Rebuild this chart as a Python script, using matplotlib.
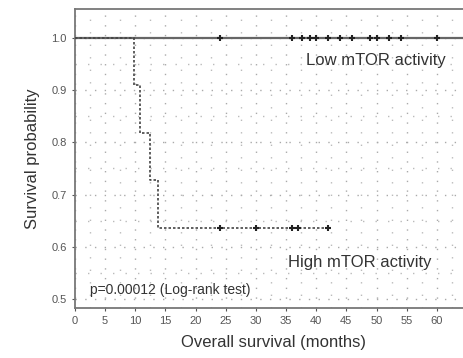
import matplotlib
matplotlib.use("Agg")
import matplotlib.pyplot as plt
import numpy as np

plt.rcParams['font.family'] = ['Liberation Sans', 'DejaVu Sans']

# Kaplan-Meier data (months, survival)
low_times = [0, 65]
low_surv = [1.0, 1.0]
low_censor = [24, 36, 37.6, 39, 40, 42, 44, 46, 49, 50, 52, 54, 60]

high_times = [0, 9.8, 10.7, 12.4, 13.8, 42]
high_surv = [1.0, 0.909, 0.818, 0.727, 0.636, 0.636]
high_censor = [24, 30, 36, 37, 42]

xticks = list(range(0, 65, 5))
yticks = [0.5, 0.6, 0.7, 0.8, 0.9, 1.0]

fig = plt.figure(figsize=(4.64, 3.58), dpi=100)
W, H = 464, 358
ax = fig.add_axes([75 / W, 1 - 308 / H, (473 - 75) / W, (308 - 9) / H])

grey = '#555555'
ax.step(low_times, low_surv, where='post', color='#666666', lw=1.6, zorder=3)
ax.plot(low_censor, [1.0] * len(low_censor), ls='none', marker='+', ms=5,
        mew=1.5, color='#222222', zorder=4)
ax.step(high_times, high_surv, where='post', color='#444444', lw=1.2,
        ls=(0, (1.5, 1.2)), zorder=3)
ax.plot(high_censor, [0.636] * len(high_censor), ls='none', marker='+', ms=5,
        mew=1.5, color='#222222', zorder=4)

ax.set_xlim(0, 66)
ax.set_ylim(0.483, 1.055)
ax.set_xticks(xticks)
ax.set_yticks(yticks)
ax.set_yticklabels([f'{v:.1f}' for v in yticks])
ax.tick_params(labelsize=8, colors=grey, length=2.5, width=0.8)

ax.set_xticks(np.arange(2.5, 66, 5), minor=True)
ax.set_yticks(np.arange(0.55, 1.05, 0.1), minor=True)
ax.tick_params(which='minor', length=0)
ax.grid(True, which='major', color='#aaaaaa', lw=1.0, ls=(0, (1, 6)))
ax.grid(True, which='minor', color='#bbbbbb', lw=1.0, ls=(0, (1, 8)))

for s in ax.spines.values():
    s.set_color('#777777')
    s.set_linewidth(1.3)

ax.text(376, H - 60, 'Low mTOR activity', transform=None, fontsize=12,
        color='#333333', ha='center', va='center')
ax.text(360, H - 262, 'High mTOR activity', transform=None, fontsize=12,
        color='#333333', ha='center', va='center')
ax.text(90, H - 290, 'p=0.00012 (Log-rank test)', transform=None,
        fontsize=10, color='#333333', ha='left', va='center')

ax.set_xlabel('Overall survival (months)', fontsize=12, color='#333333', labelpad=6)
ax.set_ylabel('Survival probability', fontsize=12, color='#333333', labelpad=8)

fig.savefig('out.png', dpi=100)
